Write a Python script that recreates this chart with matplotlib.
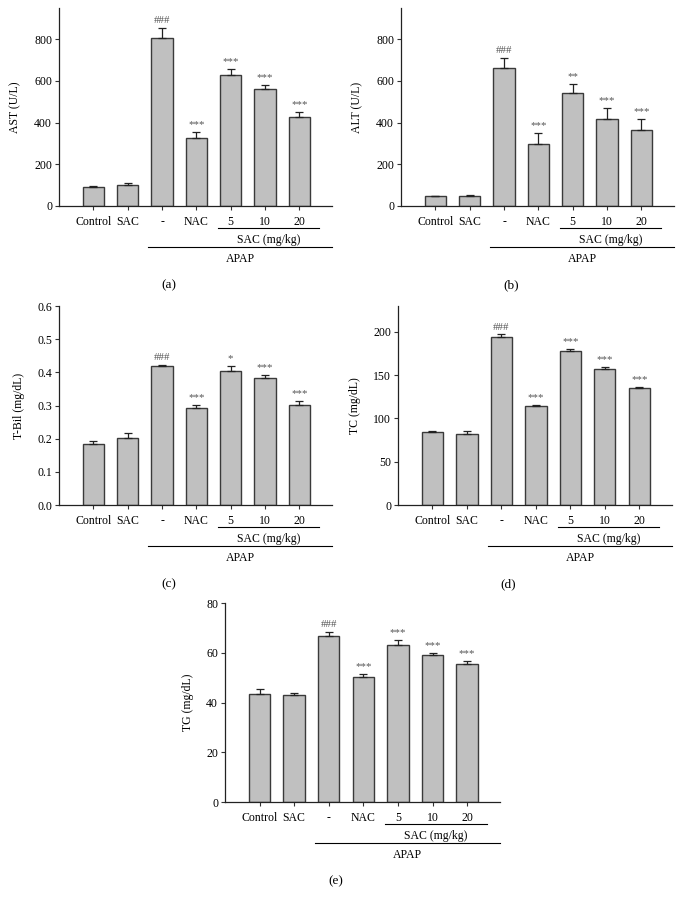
import matplotlib
matplotlib.use("Agg")
import matplotlib.pyplot as plt
import numpy as np

plt.rcParams['font.family'] = ['Liberation Serif', 'DejaVu Serif']

groups = ["Control", "SAC", "-", "NAC", "5", "10", "20"]

ast = [90, 103, 808, 326, 627, 560, 429]
ast_err = [8, 8, 46, 30, 30, 20, 21]
ast_sig = ["", "", "###", "***", "***", "***", "***"]

alt = [46, 50, 662, 298, 541, 419, 366]
alt_err = [4, 3, 50, 54, 43, 50, 50]
alt_sig = ["", "", "###", "***", "**", "***", "***"]

tbil = [0.183, 0.202, 0.418, 0.293, 0.405, 0.382, 0.302]
tbil_err = [0.010, 0.015, 0.004, 0.009, 0.013, 0.011, 0.012]
tbil_sig = ["", "", "###", "***", "*", "***", "***"]

tc = [84.2, 81.9, 194.6, 114.3, 177.6, 156.8, 135.1]
tc_err = [1.5, 3.5, 2.5, 1.8, 3.0, 3.0, 1.8]
tc_sig = ["", "", "###", "***", "***", "***", "***"]

tg = [43.5, 43.2, 66.9, 50.4, 63.1, 59.1, 55.6]
tg_err = [2.0, 0.5, 1.4, 1.0, 2.0, 0.7, 1.0]
tg_sig = ["", "", "###", "***", "***", "***", "***"]

W, H = 684, 905
fig = plt.figure(figsize=(W / 100, H / 100), dpi=100)


def panel(left, bottom_px, width, height, vals, errs, sigs, ylabel, ylim, yticks, yfmt, tag):
    ax = fig.add_axes([left / W, (H - bottom_px) / H, width / W, height / H])
    x = np.arange(len(groups))
    lower = np.zeros(len(errs))
    ax.bar(x, vals, width=0.62, color="#c0c0c0", edgecolor="#3a3a3a", linewidth=1.0,
           yerr=[lower, errs], error_kw=dict(ecolor="#222222", elinewidth=0.9, capsize=3.2, capthick=0.9))
    for xi, v, e, s in zip(x, vals, errs, sigs):
        if s:
            ax.annotate(s, (xi, v + e), xytext=(0, 2), textcoords="offset points",
                        ha="center", va="bottom", fontsize=7.8, color="#555555")
    ax.set_xlim(-1, 6.95)
    ax.set_ylim(*ylim)
    ax.set_yticks(yticks)
    ax.set_yticklabels([yfmt % t for t in yticks], fontsize=8.5)
    ax.set_xticks(x)
    ax.set_xticklabels(groups, fontsize=8.5)
    ax.tick_params(axis="both", length=3, width=0.8, color="#333333", pad=2)
    ax.tick_params(axis="x", pad=4)
    ax.set_ylabel(ylabel, fontsize=8.5, labelpad=9)
    for sp in ["top", "right"]:
        ax.spines[sp].set_visible(False)
    for sp in ["left", "bottom"]:
        ax.spines[sp].set_linewidth(0.9)
        ax.spines[sp].set_color("#222222")

    tr = ax.get_xaxis_transform()
    def yb(px):
        return -px / height
    ax.plot([3.63, 6.57], [yb(22), yb(22)], transform=tr, color="black", lw=0.8, clip_on=False)
    ax.text(5.1, yb(34), "SAC (mg/kg)", transform=tr, ha="center", va="center", fontsize=8.5)
    ax.plot([1.6, 6.95], [yb(41), yb(41)], transform=tr, color="black", lw=0.8, clip_on=False)
    ax.text(4.28, yb(53), "APAP", transform=tr, ha="center", va="center", fontsize=8.5)
    ax.text(2.2, yb(79), tag, transform=tr, ha="center", va="center", fontsize=9.5)
    return ax


panel(59, 206, 273, 198, ast, ast_err, ast_sig, "AST (U/L)", (0, 950),
      [0, 200, 400, 600, 800], "%d", "(a)")
panel(401, 206, 273, 198, alt, alt_err, alt_sig, "ALT (U/L)", (0, 950),
      [0, 200, 400, 600, 800], "%d", "(b)")
panel(59, 505, 273, 199, tbil, tbil_err, tbil_sig, "T-Bil (mg/dL)", (0, 0.6),
      [0.0, 0.1, 0.2, 0.3, 0.4, 0.5, 0.6], "%.1f", "(c)")
panel(398, 505, 274, 199, tc, tc_err, tc_sig, "TC (mg/dL)", (0, 230),
      [0, 50, 100, 150, 200], "%d", "(d)")
panel(225, 802, 275, 199, tg, tg_err, tg_sig, "TG (mg/dL)", (0, 80),
      [0, 20, 40, 60, 80], "%d", "(e)")

fig.savefig("out.png", dpi=100)
